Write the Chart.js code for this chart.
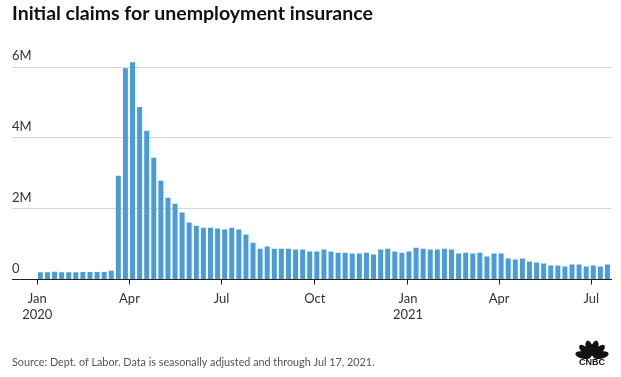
<!DOCTYPE html>
<html>
<head>
<meta charset="utf-8">
<script src="https://cdn.jsdelivr.net/npm/chart.js@4"></script>
<style>
    html, body { margin: 0; padding: 0; background: #fff; }
    #wrap { width: 621px; height: 377px; position: relative; }
</style>
</head>
<body>
<div id="wrap"><canvas id="claimsChart"></canvas></div>
<script>
// Semanas (fin de semana, sábado)
const weekEnding = [
    '2020-01-04', '2020-01-11', '2020-01-18', '2020-01-25', '2020-02-01', '2020-02-08', '2020-02-15', '2020-02-22', '2020-02-29',
    '2020-03-07', '2020-03-14', '2020-03-21', '2020-03-28', '2020-04-04', '2020-04-11', '2020-04-18', '2020-04-25',
    '2020-05-02', '2020-05-09', '2020-05-16', '2020-05-23', '2020-05-30', '2020-06-06', '2020-06-13', '2020-06-20', '2020-06-27',
    '2020-07-04', '2020-07-11', '2020-07-18', '2020-07-25', '2020-08-01', '2020-08-08', '2020-08-15', '2020-08-22', '2020-08-29',
    '2020-09-05', '2020-09-12', '2020-09-19', '2020-09-26', '2020-10-03', '2020-10-10', '2020-10-17', '2020-10-24', '2020-10-31',
    '2020-11-07', '2020-11-14', '2020-11-21', '2020-11-28', '2020-12-05', '2020-12-12', '2020-12-19', '2020-12-26',
    '2021-01-02', '2021-01-09', '2021-01-16', '2021-01-23', '2021-01-30', '2021-02-06', '2021-02-13', '2021-02-20', '2021-02-27',
    '2021-03-06', '2021-03-13', '2021-03-20', '2021-03-27', '2021-04-03', '2021-04-10', '2021-04-17', '2021-04-24',
    '2021-05-01', '2021-05-08', '2021-05-15', '2021-05-22', '2021-05-29', '2021-06-05', '2021-06-12', '2021-06-19', '2021-06-26',
    '2021-07-03', '2021-07-10', '2021-07-17'
];

// Solicitudes iniciales (miles)
const initialClaims = [
    205, 205, 220, 205, 205, 205, 215, 215, 215, 215, 250,
    2930, 5970, 6140, 4870, 4200, 3440, 2790, 2310, 2140, 1890,
    1610, 1520, 1460, 1460, 1440, 1410, 1460, 1410, 1270, 1040,
    873, 930, 873, 873, 873, 845, 845, 789, 789, 845,
    789, 760, 760, 732, 732, 760, 704, 845, 873, 789,
    760, 789, 901, 873, 845, 845, 873, 845, 732, 760,
    732, 760, 648, 732, 732, 592, 563, 592, 507, 479,
    451, 394, 394, 366, 423, 423, 366, 394, 366, 423
];

// Marcas del eje X
const xTickDates = ['2020-01-01', '2020-04-01', '2020-07-01', '2020-10-01', '2021-01-01', '2021-04-01', '2021-07-01'];
const xTickLabels = [['Jan', '2020'], 'Apr', 'Jul', 'Oct', ['Jan', '2021'], 'Apr', 'Jul'];

// Marcas del eje Y (miles)
const yTickValues = [0, 2000, 4000, 6000];
const yTickLabels = ['0', '2M', '4M', '6M'];

const origin = Date.UTC(2020, 0, 1);
function dayIndex(iso) {
    const p = iso.split('-');
    return (Date.UTC(+p[0], +p[1] - 1, +p[2]) - origin) / 86400000;
}

const points = weekEnding.map(function (d, i) {
    return { x: dayIndex(d), y: initialClaims[i] };
});

const textColor = '#333333';
const fontFamily = 'Lato, "Open Sans", sans-serif';

// Logo de CNBC (dibujado a mano)
const logoPlugin = {
    id: 'cnbcLogo',
    afterDraw: function (chart) {
        const ctx = chart.ctx;
        const cx = 592, cy = 357;
        ctx.save();
        ctx.fillStyle = '#111';
        const angles = [-78, -47, -16, 16, 47, 78];
        angles.forEach(function (a) {
            ctx.save();
            ctx.translate(cx, cy);
            ctx.rotate(a * Math.PI / 180);
            ctx.beginPath();
            ctx.ellipse(0, -9, 3.6, 8, 0, 0, Math.PI * 2);
            ctx.fill();
            ctx.restore();
        });
        ctx.font = 'bold 9px "Liberation Sans", sans-serif';
        ctx.textAlign = 'center';
        ctx.textBaseline = 'middle';
        ctx.fillText('CNBC', cx, cy + 6);
        ctx.restore();
    }
};

const ctx = document.getElementById('claimsChart').getContext('2d');
new Chart(ctx, {
    type: 'bar',
    data: {
        datasets: [
            {
                label: 'Initial claims',
                data: points,
                backgroundColor: '#4a9bd9',
                borderWidth: 0,
                categoryPercentage: 1,
                barPercentage: 0.7
            }
        ]
    },
    options: {
        responsive: true,
        maintainAspectRatio: false,
        animation: false,
        layout: {
            padding: { left: 12, right: 10, top: 0, bottom: 0 }
        },
        plugins: {
            legend: { display: false },
            tooltip: { enabled: false },
            title: {
                display: true,
                text: 'Initial claims for unemployment insurance',
                align: 'start',
                color: '#111',
                font: { family: fontFamily, size: 19.5, weight: 'bold', lineHeight: 1.2 },
                padding: { top: 2, bottom: 24 }
            },
            subtitle: {
                display: true,
                position: 'bottom',
                text: 'Source: Dept. of Labor. Data is seasonally adjusted and through Jul 17, 2021.',
                align: 'start',
                color: '#555',
                font: { family: fontFamily, size: 10.8, lineHeight: 1.2 },
                padding: { top: 27, bottom: 8 }
            }
        },
        scales: {
            x: {
                type: 'linear',
                offset: false,
                min: -25,
                max: 566.5,
                afterBuildTicks: function (scale) {
                    scale.ticks = xTickDates.map(function (d) { return { value: dayIndex(d) }; });
                },
                grid: {
                    display: true,
                    offset: false,
                    drawOnChartArea: false,
                    drawTicks: true,
                    tickLength: 5,
                    color: '#222'
                },
                border: { display: true, color: '#222', width: 1 },
                ticks: {
                    autoSkip: false,
                    maxRotation: 0,
                    padding: 6,
                    color: textColor,
                    font: { family: fontFamily, size: 13, lineHeight: 1.25 },
                    callback: function (value, index) {
                        return xTickLabels[index];
                    }
                }
            },
            y: {
                min: 0,
                max: 6500,
                afterBuildTicks: function (scale) {
                    scale.ticks = yTickValues.map(function (v) { return { value: v }; });
                },
                grid: { color: '#d6d6d6', drawTicks: false },
                border: { display: false },
                ticks: {
                    mirror: true,
                    padding: 0,
                    labelOffset: -11,
                    color: textColor,
                    font: { family: fontFamily, size: 13 },
                    callback: function (value, index) {
                        return yTickLabels[index];
                    }
                }
            }
        }
    },
    plugins: [logoPlugin]
});
</script>
</body>
</html>
